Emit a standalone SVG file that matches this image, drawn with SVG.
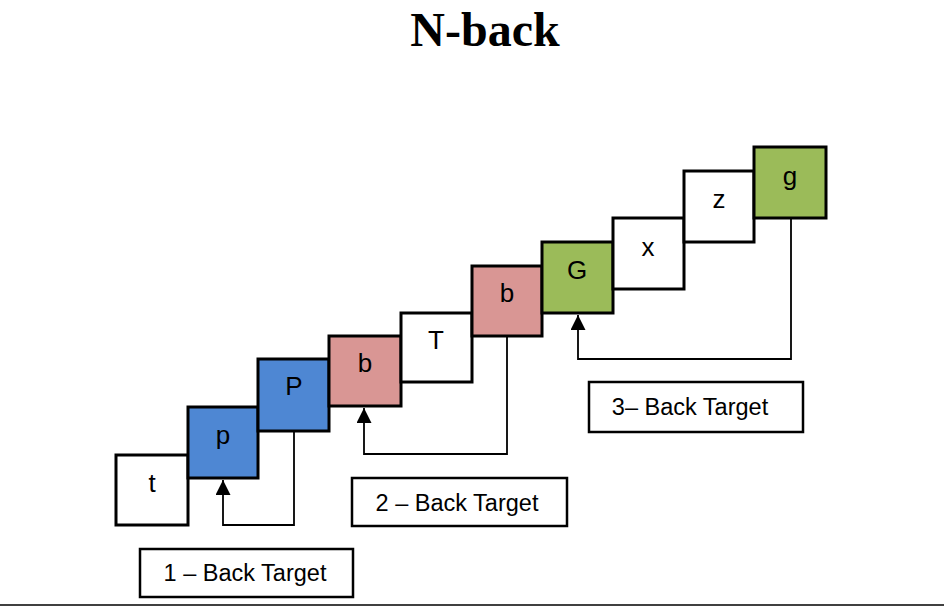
<svg xmlns="http://www.w3.org/2000/svg" width="944" height="607" viewBox="0 0 944 607">
<style>
.box{stroke:#000;stroke-width:3}
.w{fill:#fff}
.blue{fill:#4E87D3}
.pink{fill:#D99694}
.green{fill:#9BBB59}
.lt{font-family:"Liberation Sans",Arial,sans-serif;font-size:26px;fill:#000;text-anchor:middle}
.lab{fill:#fff;stroke:#000;stroke-width:2.5}
.lbt{font-family:"Liberation Sans",Arial,sans-serif;font-size:23.5px;fill:#000;text-anchor:middle}
.con{fill:none;stroke:#000;stroke-width:1.8}
</style>
<defs>
<marker id="arr" viewBox="0 0 14 14" refX="14" refY="7" markerWidth="15" markerHeight="15" markerUnits="userSpaceOnUse" orient="auto">
<path d="M0,0 L14,7 L0,14 z" fill="#000"/>
</marker>
</defs>
<rect width="944" height="607" fill="#fff"/>
<text x="485" y="46" font-family="Liberation Serif,'Times New Roman',serif" font-weight="bold" font-size="48" text-anchor="middle">N-back</text>
<g id="connectors">
<path class="con" d="M294 431 V525 H223 V480" marker-end="url(#arr)"/>
<path class="con" d="M507 336 V454 H364 V408" marker-end="url(#arr)"/>
<path class="con" d="M791 218 V359 H578 V315" marker-end="url(#arr)"/>
</g>
<g id="n1"><rect class="box w" x="116" y="455" width="72" height="70"/><text class="lt" x="152" y="492">t</text></g>
<g id="n2"><rect class="box blue" x="188" y="407" width="70" height="71"/><text class="lt" x="223" y="444">p</text></g>
<g id="n3"><rect class="box blue" x="258" y="359" width="71" height="72"/><text class="lt" x="294" y="395">P</text></g>
<g id="n4"><rect class="box pink" x="329" y="336" width="72" height="70"/><text class="lt" x="365" y="372">b</text></g>
<g id="n5"><rect class="box w" x="401" y="313" width="71" height="69"/><text class="lt" x="436" y="349">T</text></g>
<g id="n6"><rect class="box pink" x="472" y="266" width="70" height="70"/><text class="lt" x="507" y="302">b</text></g>
<g id="n7"><rect class="box green" x="542" y="242" width="71" height="71"/><text class="lt" x="577" y="279">G</text></g>
<g id="n8"><rect class="box w" x="613" y="218" width="71" height="71"/><text class="lt" x="648" y="256">x</text></g>
<g id="n9"><rect class="box w" x="684" y="171" width="70" height="71"/><text class="lt" x="719" y="208">z</text></g>
<g id="n10"><rect class="box green" x="754" y="147" width="72" height="71"/><text class="lt" x="790" y="185">g</text></g>
<g id="l1"><rect class="lab" x="140" y="549" width="213" height="48"/><text class="lbt" x="245" y="581">1 – Back Target</text></g>
<g id="l2"><rect class="lab" x="352" y="478" width="215" height="48"/><text class="lbt" x="457" y="511">2 – Back Target</text></g>
<g id="l3"><rect class="lab" x="589" y="382" width="214" height="50"/><text class="lbt" x="690" y="415">3– Back Target</text></g>
<line x1="0" y1="605" x2="944" y2="605" stroke="#000" stroke-width="1.6"/>
</svg>
